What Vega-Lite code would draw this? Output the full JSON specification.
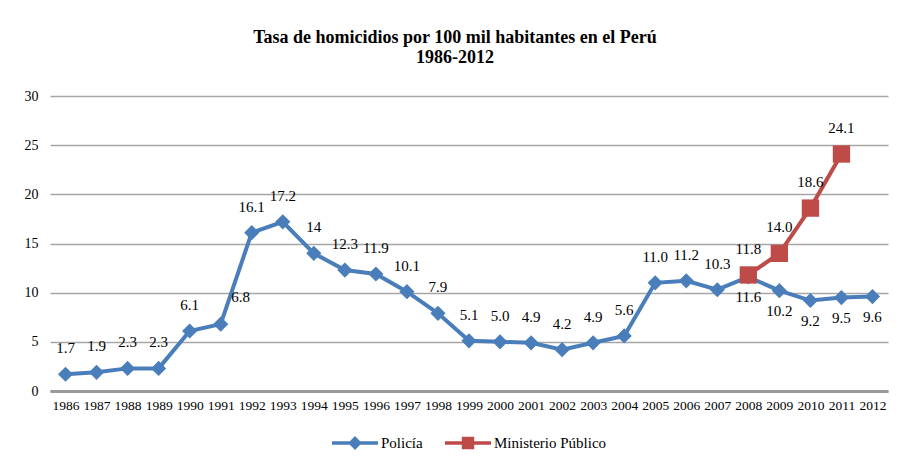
{
  "$schema": "https://vega.github.io/schema/vega-lite/v6.json",
  "width": 838,
  "height": 295,
  "autosize": {"type": "none"},
  "padding": {"left": 50, "top": 96, "right": 13, "bottom": 77},
  "background": "white",
  "title": {
    "text": ["Tasa de homicidios por 100 mil habitantes en el Perú", "1986-2012"],
    "font": "'Liberation Serif', 'Times New Roman', serif",
    "fontSize": 18,
    "fontWeight": "bold",
    "color": "#000000",
    "anchor": "middle",
    "dx": -14,
    "offset": 22,
    "lineHeight": 20
  },
  "data": {
    "values": [
      {"year": "1986", "serie": "Policía", "value": 1.7, "label": "1.7"},
      {"year": "1987", "serie": "Policía", "value": 1.9, "label": "1.9"},
      {"year": "1988", "serie": "Policía", "value": 2.3, "label": "2.3"},
      {"year": "1989", "serie": "Policía", "value": 2.3, "label": "2.3"},
      {"year": "1990", "serie": "Policía", "value": 6.1, "label": "6.1"},
      {"year": "1991", "serie": "Policía", "value": 6.8, "label": "6.8"},
      {"year": "1992", "serie": "Policía", "value": 16.1, "label": "16.1"},
      {"year": "1993", "serie": "Policía", "value": 17.2, "label": "17.2"},
      {"year": "1994", "serie": "Policía", "value": 14.0, "label": "14"},
      {"year": "1995", "serie": "Policía", "value": 12.3, "label": "12.3"},
      {"year": "1996", "serie": "Policía", "value": 11.9, "label": "11.9"},
      {"year": "1997", "serie": "Policía", "value": 10.1, "label": "10.1"},
      {"year": "1998", "serie": "Policía", "value": 7.9, "label": "7.9"},
      {"year": "1999", "serie": "Policía", "value": 5.1, "label": "5.1"},
      {"year": "2000", "serie": "Policía", "value": 5.0, "label": "5.0"},
      {"year": "2001", "serie": "Policía", "value": 4.9, "label": "4.9"},
      {"year": "2002", "serie": "Policía", "value": 4.2, "label": "4.2"},
      {"year": "2003", "serie": "Policía", "value": 4.9, "label": "4.9"},
      {"year": "2004", "serie": "Policía", "value": 5.6, "label": "5.6"},
      {"year": "2005", "serie": "Policía", "value": 11.0, "label": "11.0"},
      {"year": "2006", "serie": "Policía", "value": 11.2, "label": "11.2"},
      {"year": "2007", "serie": "Policía", "value": 10.3, "label": "10.3"},
      {"year": "2008", "serie": "Policía", "value": 11.6, "label": "11.6"},
      {"year": "2009", "serie": "Policía", "value": 10.2, "label": "10.2"},
      {"year": "2010", "serie": "Policía", "value": 9.2, "label": "9.2"},
      {"year": "2011", "serie": "Policía", "value": 9.5, "label": "9.5"},
      {"year": "2012", "serie": "Policía", "value": 9.6, "label": "9.6"},
      {"year": "2008", "serie": "Ministerio Público", "value": 11.8, "label": "11.8"},
      {"year": "2009", "serie": "Ministerio Público", "value": 14.0, "label": "14.0"},
      {"year": "2010", "serie": "Ministerio Público", "value": 18.6, "label": "18.6"},
      {"year": "2011", "serie": "Ministerio Público", "value": 24.1, "label": "24.1"}
    ]
  },
  "encoding": {
    "x": {
      "field": "year",
      "type": "ordinal",
      "scale": {"type": "point", "padding": 0.5},
      "axis": {
        "title": null,
        "labelAngle": 0,
        "labelFont": "'Liberation Serif', 'Times New Roman', serif",
        "labelFontSize": 13.5,
        "labelColor": "#000000",
        "labelPadding": 7,
        "ticks": false,
        "domainColor": "#9a9a9a",
        "domainWidth": 3,
        "grid": false
      }
    },
    "y": {
      "field": "value",
      "type": "quantitative",
      "scale": {"domain": [0, 30]},
      "axis": {
        "title": null,
        "values": [0, 5, 10, 15, 20, 25, 30],
        "labelFont": "'Liberation Serif', 'Times New Roman', serif",
        "labelFontSize": 14,
        "labelColor": "#000000",
        "labelPadding": 12,
        "ticks": false,
        "domain": false,
        "grid": true,
        "gridColor": "#a6a6a6",
        "gridWidth": 1.5
      }
    }
  },
  "layer": [
    {
      "transform": [{"filter": "datum.serie === 'Policía'"}],
      "mark": {"type": "line", "color": "#4a7ebb", "strokeWidth": 4}
    },
    {
      "transform": [{"filter": "datum.serie === 'Ministerio Público'"}],
      "mark": {"type": "line", "color": "#be4b48", "strokeWidth": 4}
    },
    {
      "transform": [{"filter": "datum.serie === 'Policía'"}],
      "mark": {"type": "point", "shape": "diamond", "filled": true, "color": "#4a7ebb", "size": 230, "opacity": 1}
    },
    {
      "transform": [{"filter": "datum.serie === 'Ministerio Público'"}],
      "mark": {"type": "point", "shape": "square", "filled": true, "color": "#be4b48", "size": 300, "opacity": 1}
    },
    {
      "transform": [{"filter": "datum.serie === 'Policía' && datum.year < '2008' && datum.year !== '1991'"}],
      "mark": {"type": "text", "font": "'Liberation Serif', 'Times New Roman', serif", "fontSize": 15, "color": "#000000", "dy": -26},
      "encoding": {"text": {"field": "label"}}
    },
    {
      "transform": [{"filter": "datum.serie === 'Policía' && datum.year === '1991'"}],
      "mark": {"type": "text", "font": "'Liberation Serif', 'Times New Roman', serif", "fontSize": 15, "color": "#000000", "dy": -27, "dx": 20},
      "encoding": {"text": {"field": "label"}}
    },
    {
      "transform": [{"filter": "datum.serie === 'Policía' && datum.year >= '2008'"}],
      "mark": {"type": "text", "font": "'Liberation Serif', 'Times New Roman', serif", "fontSize": 15, "color": "#000000", "dy": 20},
      "encoding": {"text": {"field": "label"}}
    },
    {
      "transform": [{"filter": "datum.serie === 'Ministerio Público'"}],
      "mark": {"type": "text", "font": "'Liberation Serif', 'Times New Roman', serif", "fontSize": 15, "color": "#000000", "dy": -26},
      "encoding": {"text": {"field": "label"}}
    },
    {
      "transform": [{"filter": "false"}],
      "mark": {"type": "point", "filled": true, "opacity": 1},
      "encoding": {
        "color": {
          "field": "serie",
          "type": "nominal",
          "scale": {"domain": ["Policía", "Ministerio Público"], "range": ["#4a7ebb", "#be4b48"]},
          "legend": {
            "title": null,
            "orient": "bottom",
            "direction": "horizontal",
            "labelFont": "'Liberation Serif', 'Times New Roman', serif",
            "labelFontSize": 15,
            "labelColor": "#000000",
            "symbolSize": 2116,
            "symbolStrokeWidth": 0,
            "symbolOpacity": 1,
            "columnPadding": 22,
            "labelOffset": 3,
            "offset": 8
          }
        },
        "shape": {
          "field": "serie",
          "type": "nominal",
          "scale": {
            "domain": ["Policía", "Ministerio Público"],
            "range": [
              "M-1,-0.08H1V0.08H-1Z M0,-0.3L0.3,0L0,0.3L-0.3,0Z",
              "M-1,-0.08H1V0.08H-1Z M-0.27,-0.27H0.27V0.27H-0.27Z"
            ]
          },
          "legend": {
            "title": null,
            "orient": "bottom",
            "direction": "horizontal",
            "labelFont": "'Liberation Serif', 'Times New Roman', serif",
            "labelFontSize": 15,
            "labelColor": "#000000",
            "symbolSize": 2116,
            "symbolStrokeWidth": 0,
            "symbolOpacity": 1,
            "columnPadding": 22,
            "labelOffset": 3,
            "offset": 8
          }
        }
      }
    }
  ],
  "config": {
    "view": {"stroke": null},
    "font": "'Liberation Serif', 'Times New Roman', serif",
    "legend": {"layout": {"bottom": {"anchor": "middle"}}}
  }
}
